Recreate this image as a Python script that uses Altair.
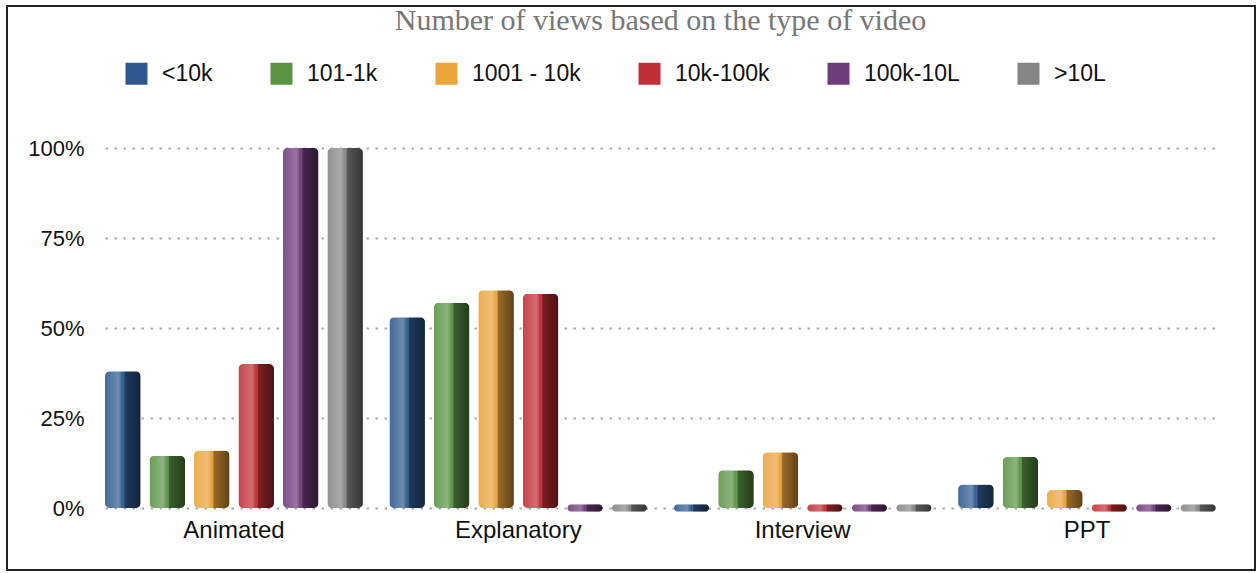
import altair as alt
import pandas as pd

categories = ["Animated", "Explanatory", "Interview", "PPT"]
series = ["<10k", "101-1k", "1001 - 10k", "10k-100k", "100k-10L", ">10L"]
colors = ["#2E5A8F", "#5A9445", "#EBA33C", "#C02F35", "#6E3B7B", "#858585"]

values = {
    "Animated":    [0.38, 0.145, 0.16, 0.40, 1.00, 1.00],
    "Explanatory": [0.53, 0.57, 0.605, 0.595, 0.0, 0.0],
    "Interview":   [0.0, 0.105, 0.155, 0.0, 0.0, 0.0],
    "PPT":         [0.065, 0.142, 0.05, 0.0, 0.0, 0.0],
}

rows = []
for c in categories:
    for s, v in zip(series, values[c]):
        rows.append({"category": c, "series": s, "value": v})
df = pd.DataFrame(rows)

x_enc = alt.X("category:N", sort=categories, title=None,
              scale=alt.Scale(paddingInner=0.093, paddingOuter=0),
              axis=alt.Axis(labelFontSize=24, labelFont="Liberation Sans", labelColor="#111",
                            labelAngle=0, labelPadding=10, ticks=False, domain=False,
                            grid=False))
xo_enc = alt.XOffset("series:N", sort=series,
                     scale=alt.Scale(paddingInner=0.2, paddingOuter=0))
color_enc = alt.Color("series:N", sort=series,
                      scale=alt.Scale(domain=series, range=colors),
                      legend=alt.Legend(orient="none", legendX=20, legendY=-86,
                                        direction="horizontal", title=None,
                                        symbolType="square", symbolSize=484,
                                        symbolStrokeWidth=0, symbolOpacity=1,
                                        labelFontSize=23, labelFont="Liberation Sans",
                                        labelColor="#111", labelOffset=14,
                                        columnPadding=57))
y_enc = alt.Y("value:Q", title=None,
              scale=alt.Scale(domain=[0, 1], nice=False),
              axis=alt.Axis(values=[0, 0.25, 0.5, 0.75, 1.0], format=".0%",
                            labelFontSize=22, labelFont="Liberation Sans", labelColor="#111",
                            labelPadding=21, ticks=False, domain=False,
                            grid=True, gridColor="#aaaaaa", gridDash=[2.5, 6.5],
                            gridWidth=2))

shade = {
    "x1": 0, "x2": 1, "y1": 0, "y2": 0, "gradient": "linear",
    "stops": [
        {"offset": 0.0, "color": "rgba(255,255,255,0.10)"},
        {"offset": 0.38, "color": "rgba(255,255,255,0.30)"},
        {"offset": 0.5, "color": "rgba(255,255,255,0.0)"},
        {"offset": 0.56, "color": "rgba(0,0,0,0.35)"},
        {"offset": 1.0, "color": "rgba(0,0,0,0.6)"},
    ],
}

base = alt.Chart(df)

bars = base.mark_bar(cornerRadius=5).encode(x=x_enc, xOffset=xo_enc, y=y_enc, color=color_enc)
bars_shade = base.mark_bar(cornerRadius=5, color=shade).encode(x=x_enc, xOffset=xo_enc, y=y_enc)

zero = base.transform_filter("datum.value == 0")
discs = zero.mark_tick(thickness=7, size=35, cornerRadius=3.5, opacity=1).encode(
    x=x_enc, xOffset=xo_enc, y=y_enc, color=color_enc)
discs_shade = zero.mark_tick(thickness=7, size=35, cornerRadius=3.5, color=shade, opacity=1).encode(
    x=x_enc, xOffset=xo_enc, y=y_enc)

frame = alt.Chart(pd.DataFrame({"a": [0]})).mark_rect(
    fill=None, stroke="#222", strokeWidth=2, clip=False).encode(
    x=alt.value(-98), x2=alt.value(1150), y=alt.value(-142), y2=alt.value(422))

chart = alt.layer(bars, bars_shade, discs, discs_shade, frame).properties(
    width=1111, height=360,
    background="white",
    padding={"left": 105, "top": 148, "right": 44, "bottom": 65},
    autosize=alt.AutoSizeParams(type="none"),
    title=alt.Title("Number of views based on the type of video",
                    font="Liberation Serif", fontSize=30, fontWeight="normal",
                    color="#777777", frame="group", anchor="middle", offset=-61,
                    baseline="bottom"),
).configure_view(stroke="transparent", strokeWidth=0)

chart.save("out.html", embed_options={"renderer": "svg", "actions": False})
